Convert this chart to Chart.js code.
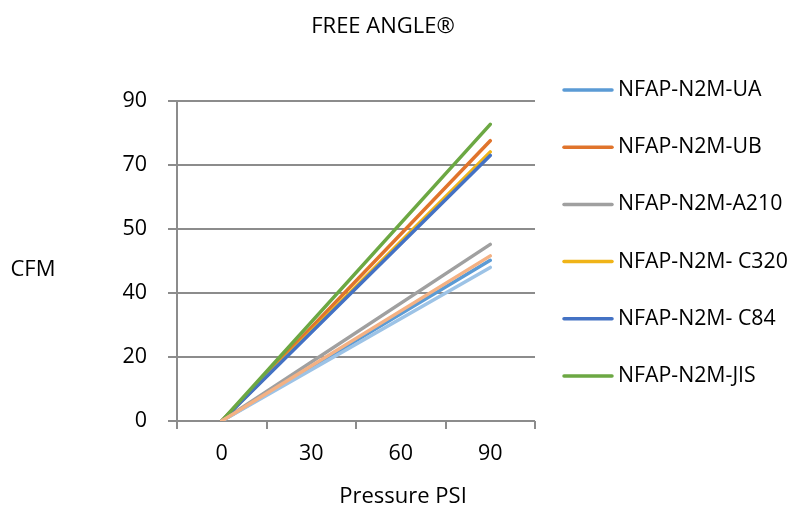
<!DOCTYPE html>
<html>
<head>
<meta charset="utf-8">
<script src="https://cdn.jsdelivr.net/npm/chart.js@4/dist/chart.umd.min.js"></script>
<style>
  html, body { margin: 0; padding: 0; background: #fff; }
</style>
</head>
<body>
<canvas id="flowChart" width="790" height="510"></canvas>
<script>
// x categories (pressure, PSI) and y tick labels as printed on the chart
var pressure = ['0', '30', '60', '90'];
var yLabels = ['0', '20', '40', '50', '70', '90'];

var chartTitle = 'FREE ANGLE\u00AE';
var yTitle = 'CFM';
var xTitle = 'Pressure PSI';

// series names (last two have no legend entry in the original)
var names = ['NFAP-N2M-UA', 'NFAP-N2M-UB', 'NFAP-N2M-A210', 'NFAP-N2M- C320',
             'NFAP-N2M- C84', 'NFAP-N2M-JIS', 'Series7', 'Series8'];
var legendCount = 6;

// values only at 0 and 90 PSI, in axis units (gridlines every 20)
var ua   = [0, null, null, 50.2];
var ub   = [0, null, null, 87.6];
var a210 = [0, null, null, 55.2];
var c320 = [0, null, null, 84.1];
var c84  = [0, null, null, 83.0];
var jis  = [0, null, null, 92.7];
var s7   = [0, null, null, 48.0];
var s8   = [0, null, null, 51.6];

var seriesData = [ua, ub, a210, c320, c84, jis, s7, s8];
var colors = ['#5B9BD5', '#E0742C', '#A0A0A0', '#F0B418', '#4472C4', '#6CA843', '#9DC3E6', '#F4B183'];

var gridColor = '#8c8c8c';
var fontName = '"Open Sans", "Liberation Sans", sans-serif';

Chart.defaults.font.family = fontName;
Chart.defaults.font.size = 21.5;
Chart.defaults.color = '#000';

// titles and the legend are drawn here, after the chart
var textPlugin = {
    id: 'chartTexts',
    afterDraw: function (chart) {
        var c = chart.ctx;
        c.save();
        c.fillStyle = '#000';
        c.font = '22px ' + fontName;
        c.textAlign = 'center';
        c.textBaseline = 'middle';
        c.fillText(chartTitle, 383, 27);
        c.fillText(yTitle, 33, 270);
        c.fillText(xTitle, 403, 497);

        // legend
        c.font = '21.3px ' + fontName;
        c.textAlign = 'left';
        for (var i = 0; i < legendCount; i++) {
            var y = 90 + i * 57.2;
            c.strokeStyle = colors[i];
            c.lineWidth = 3.5;
            c.lineCap = 'round';
            c.beginPath();
            c.moveTo(564, y);
            c.lineTo(612, y);
            c.stroke();
            c.fillText(names[i], 618, y);
        }
        c.restore();
    }
};

var datasets = seriesData.map(function (d, i) {
    return {
        label: names[i],
        data: d,
        borderColor: colors[i],
        backgroundColor: colors[i],
        borderWidth: 3.5,
        borderCapStyle: 'round',
        pointRadius: 0,
        fill: false,
        tension: 0,
        order: -i // later series on top, like the original
    };
});

var ctx = document.getElementById('flowChart').getContext('2d');
var chart = new Chart(ctx, {
    type: 'line',
    data: {
        labels: pressure,
        datasets: datasets
    },
    plugins: [textPlugin],
    options: {
        responsive: false,
        animation: false,
        devicePixelRatio: 1,
        spanGaps: true,
        layout: {
            padding: { left: 0, right: 255, top: 101, bottom: 0 }
        },
        plugins: {
            legend: { display: false },
            title: { display: false },
            tooltip: { enabled: false }
        },
        scales: {
            x: {
                type: 'category',
                offset: true,
                afterFit: function (scale) { scale.height = 89; },
                grid: {
                    offset: true,
                    drawOnChartArea: false,
                    drawTicks: true,
                    tickLength: 8,
                    color: gridColor,
                    lineWidth: 2
                },
                border: { display: false },
                ticks: {
                    padding: 12,
                    color: '#000',
                    maxRotation: 0
                }
            },
            y: {
                type: 'linear',
                min: 0,
                max: 100,
                afterFit: function (scale) { scale.width = 177; },
                ticks: {
                    stepSize: 20,
                    padding: 21,
                    color: '#000',
                    callback: function (value, index) {
                        return yLabels[index];
                    }
                },
                grid: {
                    color: gridColor,
                    lineWidth: 2,
                    drawTicks: true,
                    tickLength: 9
                },
                border: { display: true, color: gridColor, width: 2 }
            }
        }
    }
});
</script>
</body>
</html>
